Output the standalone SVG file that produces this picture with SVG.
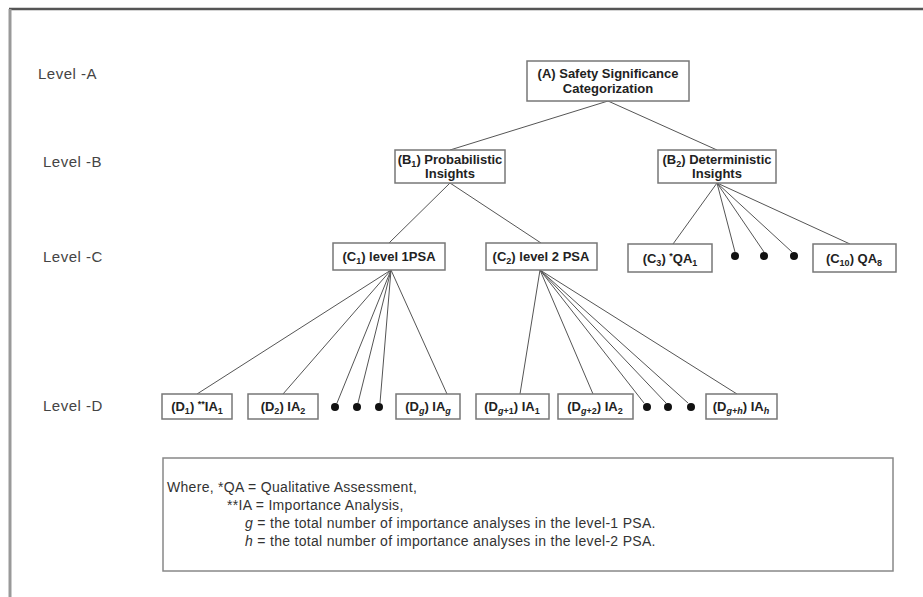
<svg xmlns="http://www.w3.org/2000/svg" width="923" height="597" viewBox="0 0 923 597">
<style>
.box{fill:#fff;stroke:#777;stroke-width:1.5}
.t{font-family:"Liberation Sans",Arial,sans-serif;font-weight:bold;font-size:13px;fill:#222;text-anchor:middle}
.lvl{font-family:"Liberation Sans",Arial,sans-serif;font-size:15px;fill:#444;letter-spacing:0.5px}
.note{font-family:"Liberation Sans",Arial,sans-serif;font-size:14px;fill:#333;letter-spacing:0.3px}
.conn line{stroke:#555;stroke-width:1}
.dot{fill:#111}
.s{font-size:9px}
</style>
<rect width="923" height="597" fill="#fff"/>
<g id="frame">
<line x1="9" y1="9" x2="923" y2="9" stroke="#555" stroke-width="2.5"/>
<line x1="10" y1="9" x2="10" y2="597" stroke="#999" stroke-width="3"/>
</g>
<g id="levels">
<text class="lvl" x="38" y="79">Level -A</text>
<text class="lvl" x="43" y="167">Level -B</text>
<text class="lvl" x="43" y="262">Level -C</text>
<text class="lvl" x="43" y="411">Level -D</text>
</g>
<g class="conn" id="connectors">
<line x1="608" y1="101" x2="450" y2="150"/>
<line x1="608" y1="101" x2="717" y2="150"/>
<line x1="450" y1="183" x2="389" y2="243"/>
<line x1="450" y1="183" x2="541" y2="243"/>
<line x1="717" y1="183" x2="673" y2="244"/>
<line x1="717" y1="183" x2="735" y2="252"/>
<line x1="717" y1="183" x2="764" y2="252"/>
<line x1="717" y1="183" x2="792" y2="252"/>
<line x1="717" y1="183" x2="850" y2="244"/>
<line x1="391" y1="270" x2="197" y2="394"/>
<line x1="391" y1="270" x2="283" y2="394"/>
<line x1="391" y1="270" x2="337" y2="403"/>
<line x1="391" y1="270" x2="358" y2="403"/>
<line x1="391" y1="270" x2="380" y2="403"/>
<line x1="391" y1="270" x2="447" y2="394"/>
<line x1="540" y1="270" x2="520" y2="394"/>
<line x1="540" y1="270" x2="593" y2="394"/>
<line x1="540" y1="270" x2="644" y2="403"/>
<line x1="540" y1="270" x2="666" y2="403"/>
<line x1="540" y1="270" x2="688" y2="403"/>
<line x1="540" y1="270" x2="737" y2="394"/>
</g>
<g id="A">
<rect class="box" x="527" y="61" width="162" height="40"/>
<text class="t" x="608" y="78">(A) Safety Significance</text>
<text class="t" x="608" y="93">Categorization</text>
</g>
<g id="B1">
<rect class="box" x="395" y="150" width="110" height="33"/>
<text class="t" x="450" y="164">(B<tspan class="s" dy="3">1</tspan><tspan dy="-3">) Probabilistic</tspan></text>
<text class="t" x="450" y="178">Insights</text>
</g>
<g id="B2">
<rect class="box" x="658" y="150" width="118" height="33"/>
<text class="t" x="717" y="164">(B<tspan class="s" dy="3">2</tspan><tspan dy="-3">) Deterministic</tspan></text>
<text class="t" x="717" y="178">Insights</text>
</g>
<g id="C1">
<rect class="box" x="333" y="243" width="112" height="27"/>
<text class="t" x="389" y="261">(C<tspan class="s" dy="3">1</tspan><tspan dy="-3">) level 1PSA</tspan></text>
</g>
<g id="C2">
<rect class="box" x="486" y="243" width="111" height="27"/>
<text class="t" x="541" y="261">(C<tspan class="s" dy="3">2</tspan><tspan dy="-3">) level 2 PSA</tspan></text>
</g>
<g id="C3">
<rect class="box" x="628" y="244" width="84" height="28"/>
<text class="t" x="670" y="263">(C<tspan class="s" dy="3">3</tspan><tspan dy="-3">) </tspan><tspan class="s" dy="-4">*</tspan><tspan dy="4">QA</tspan><tspan class="s" dy="3">1</tspan></text>
</g>
<g id="Cdots">
<circle class="dot" cx="735" cy="256" r="4"/>
<circle class="dot" cx="764" cy="256" r="4"/>
<circle class="dot" cx="794" cy="256" r="4"/>
</g>
<g id="C10">
<rect class="box" x="813" y="244" width="83" height="28"/>
<text class="t" x="854" y="263">(C<tspan class="s" dy="3">10</tspan><tspan dy="-3">) QA</tspan><tspan class="s" dy="3">8</tspan></text>
</g>
<g id="D1">
<rect class="box" x="162" y="394" width="70" height="25"/>
<text class="t" x="197" y="411">(D<tspan class="s" dy="3">1</tspan><tspan dy="-3">) </tspan><tspan class="s" dy="-4">**</tspan><tspan dy="4">IA</tspan><tspan class="s" dy="3">1</tspan></text>
</g>
<g id="D2">
<rect class="box" x="248" y="394" width="70" height="25"/>
<text class="t" x="283" y="411">(D<tspan class="s" dy="3">2</tspan><tspan dy="-3">) IA</tspan><tspan class="s" dy="3">2</tspan></text>
</g>
<g id="Ddots1">
<circle class="dot" cx="335" cy="407" r="4"/>
<circle class="dot" cx="357" cy="407" r="4"/>
<circle class="dot" cx="379" cy="407" r="4"/>
</g>
<g id="Dg">
<rect class="box" x="396" y="394" width="64" height="25"/>
<text class="t" x="428" y="411">(D<tspan class="s" dy="3" font-style="italic">g</tspan><tspan dy="-3">) IA</tspan><tspan class="s" dy="3" font-style="italic">g</tspan></text>
</g>
<g id="Dg1">
<rect class="box" x="476" y="394" width="73" height="25"/>
<text class="t" x="512" y="411">(D<tspan class="s" dy="3"><tspan font-style="italic">g</tspan>+1</tspan><tspan dy="-3">) IA</tspan><tspan class="s" dy="3">1</tspan></text>
</g>
<g id="Dg2">
<rect class="box" x="558" y="394" width="75" height="25"/>
<text class="t" x="595" y="411">(D<tspan class="s" dy="3"><tspan font-style="italic">g</tspan>+2</tspan><tspan dy="-3">) IA</tspan><tspan class="s" dy="3">2</tspan></text>
</g>
<g id="Ddots2">
<circle class="dot" cx="647" cy="407" r="4"/>
<circle class="dot" cx="668" cy="407" r="4"/>
<circle class="dot" cx="691" cy="407" r="4"/>
</g>
<g id="Dgh">
<rect class="box" x="706" y="394" width="71" height="25"/>
<text class="t" x="741" y="411">(D<tspan class="s" dy="3" font-style="italic">g+h</tspan><tspan dy="-3">) IA</tspan><tspan class="s" dy="3" font-style="italic">h</tspan></text>
</g>
<g id="note">
<rect class="box" x="163" y="458" width="730" height="113" style="stroke:#888"/>
<text class="note" x="167" y="492">Where, *QA = Qualitative Assessment,</text>
<text class="note" x="227" y="510">**IA = Importance Analysis,</text>
<text class="note" x="245" y="528"><tspan font-style="italic">g</tspan> = the total number of importance analyses in the level-1 PSA.</text>
<text class="note" x="245" y="546"><tspan font-style="italic">h</tspan> = the total number of importance analyses in the level-2 PSA.</text>
</g>
</svg>
